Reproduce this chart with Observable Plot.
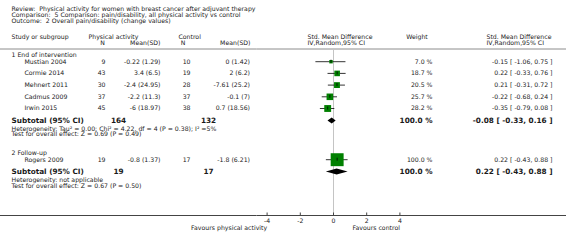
<!DOCTYPE html>
<html><head><meta charset="utf-8">
<script src="https://cdn.jsdelivr.net/npm/d3@7"></script>
<script src="https://cdn.jsdelivr.net/npm/@observablehq/plot@0.6"></script>
<style>html,body{margin:0;padding:0;background:#fff}</style>
</head><body><div id="chart"></div>
<script>
// ---------- data ----------
const titleLines = [
  "Review:\u00a0 Physical activity for women with breast cancer after adjuvant therapy",
  "Comparison:\u00a0 5 Comparison: pain/disability, all physical activity vs control",
  "Outcome:\u00a0 2 Overall pain/disability (change values)"
];
const groupLabels = ["1 End of intervention", "2 Follow-up"];
const studies   = ["Mustian 2004", "Cormie 2014", "Mehnert 2011", "Cadmus 2009", "Irwin 2015", "Rogers 2009"];
const studyGroup = [1, 1, 1, 1, 1, 2];
const paN    = [9, 43, 30, 37, 45, 19];
const paMean = [-0.22, 3.4, -2.4, -2.2, -6, -0.8];
const paSD   = [1.29, 6.5, 24.95, 11.3, 18.97, 1.37];
const ctlN    = [10, 19, 28, 37, 38, 17];
const ctlMean = [0, 2, -7.61, -0.1, 0.7, -1.8];
const ctlSD   = [1.42, 6.2, 25.2, 7, 18.56, 6.21];
const smd    = [-0.15, 0.22, 0.21, -0.22, -0.35, 0.22];
const smdLo  = [-1.06, -0.33, -0.31, -0.68, -0.79, -0.43];
const smdHi  = [0.75, 0.76, 0.72, 0.24, 0.08, 0.88];
const weight = [7.0, 18.7, 20.5, 25.7, 28.2, 100.0];
const subPaN  = [164, 19];
const subCtlN = [132, 17];
const subSmd  = [-0.08, 0.22];
const subLo   = [-0.33, -0.43];
const subHi   = [0.16, 0.88];
const hetText = [
  "Heterogeneity: Tau\u00b2 = 0.00; Chi\u00b2 = 4.22, df = 4 (P = 0.38); I\u00b2 =5%",
  "Heterogeneity: not applicable"
];
const testText = [
  "Test for overall effect: Z = 0.69 (P = 0.49)",
  "Test for overall effect: Z = 0.67 (P = 0.50)"
];
const axisTicks = [-4, -2, 0, 2, 4];
const favourLabels = ["Favours physical activity", "Favours control"];
const colHeads = {
  study: "Study or subgroup", pa: "Physical activity", ctl: "Control",
  n: "N", mean: "Mean(SD)", smd1: "Std. Mean Difference", smd2: "IV,Random,95% CI", weight: "Weight"
};

// ---------- layout ----------
const W = 566, H = 245;
const FONT = "DejaVu Sans";
const INK = "#1a1a1a";
const FS = 6.2, FSB = 7.3;
const headRuleY = 48.5, axisY = 215;
const f2 = v => v.toFixed(2);

const groupRows = [], studyRows = [], subRows = [], diamond = [];
let cursor = 55;
groupLabels.forEach((g, gi) => {
  groupRows.push({y: cursor, label: g});
  cursor += 6.2;
  studies.forEach((s, i) => {
    if (studyGroup[i] !== gi + 1) return;
    studyRows.push({
      y: cursor, name: s, smd: smd[i], lo: smdLo[i], hi: smdHi[i], w: weight[i],
      paN: String(paN[i]), paMS: `${paMean[i]} (${paSD[i]})`,
      ctlN: String(ctlN[i]), ctlMS: `${ctlMean[i]} (${ctlSD[i]})`,
      wt: `${weight[i].toFixed(1)} %`,
      eff: `${f2(smd[i])} [ ${f2(smdLo[i])}, ${f2(smdHi[i])} ]`
    });
    cursor += 11.7;
  });
  cursor += 0.7;
  const ys = cursor;
  subRows.push({
    y: ys, paN: String(subPaN[gi]), ctlN: String(subCtlN[gi]),
    eff: `${f2(subSmd[gi])} [ ${f2(subLo[gi])}, ${f2(subHi[gi])} ]`,
    het: hetText[gi], test: testText[gi]
  });
  diamond.push({g: gi, x: subLo[gi], y1: ys, y2: ys});
  diamond.push({g: gi, x: subSmd[gi], y1: ys - 3, y2: ys + 3});
  diamond.push({g: gi, x: subHi[gi], y1: ys, y2: ys});
  cursor = ys + 13.6 + 19;
});

const left = (data, opts) => Plot.text(data, {frameAnchor: "left", textAnchor: "start", fontSize: FS, fill: INK, ...opts});

const chart = Plot.plot({
  width: W, height: H, margin: 0,
  style: {fontFamily: FONT, fontSize: FS + "px", background: "#fff", color: INK},
  x: {domain: [-4, 4], range: [266.6, 399.4], axis: null},
  y: {domain: [0, H], range: [0, H], axis: null},
  r: {type: "sqrt", domain: [0, 100], range: [0, 7.3]},
  marks: [
    // titles
    left(titleLines, {y: (d, i) => 9 + i * 6, text: d => d, dx: 11}),
    // column headers
    left([colHeads.study], {y: 37, text: d => d, dx: 11}),
    left([colHeads.pa], {y: 37, text: d => d, dx: 88}),
    left([colHeads.ctl], {y: 37, text: d => d, dx: 178}),
    left([colHeads.n], {y: 43, text: d => d, dx: 104.5, textAnchor: "end"}),
    left([colHeads.mean], {y: 43, text: d => d, dx: 160, textAnchor: "end"}),
    left([colHeads.n], {y: 43, text: d => d, dx: 185, textAnchor: "end"}),
    left([colHeads.mean], {y: 43, text: d => d, dx: 250, textAnchor: "end"}),
    left([colHeads.smd1, colHeads.smd2], {y: (d, i) => 37 + i * 6, text: d => d, dx: 307}),
    left([colHeads.weight], {y: 37, text: d => d, dx: 416.5, textAnchor: "middle"}),
    left([colHeads.smd1, colHeads.smd2], {y: (d, i) => 37 + i * 6, text: d => d, dx: 486}),
    Plot.ruleY([headRuleY], {stroke: "#8c8c8c", strokeWidth: 1}),
    // zero line
    Plot.ruleX([0], {y1: headRuleY, y2: axisY, stroke: "#c4c4c4", strokeWidth: 1}),
    // group labels
    left(groupRows, {y: "y", text: "label", dx: 11}),
    // study rows
    left(studyRows, {y: "y", text: "name", dx: 24}),
    left(studyRows, {y: "y", text: "paN", dx: 105, textAnchor: "end"}),
    left(studyRows, {y: "y", text: "paMS", dx: 160, textAnchor: "end"}),
    left(studyRows, {y: "y", text: "ctlN", dx: 190, textAnchor: "end"}),
    left(studyRows, {y: "y", text: "ctlMS", dx: 249.5, textAnchor: "end"}),
    left(studyRows, {y: "y", text: "wt", dx: 432, textAnchor: "end"}),
    left(studyRows, {y: "y", text: "eff", dx: 552, textAnchor: "end"}),
    // forest marks
    Plot.ruleY(studyRows, {y: "y", x1: "lo", x2: "hi", stroke: "#000", strokeWidth: 0.8}),
    Plot.dot(studyRows, {x: "smd", y: "y", r: "w", symbol: "square", fill: "#008000", stroke: "none"}),
    Plot.ruleX(studyRows, {x: "smd", y1: d => d.y - 1.5, y2: d => d.y + 1.5, stroke: "#000", strokeWidth: 0.8}),
    // subtotals
    left(subRows, {y: "y", text: () => "Subtotal (95% CI)", dx: 11, fontWeight: "bold", fontSize: FSB}),
    left(subRows, {y: "y", text: "paN", dx: 118, textAnchor: "middle", fontWeight: "bold", fontSize: FSB}),
    left(subRows, {y: "y", text: "ctlN", dx: 208, textAnchor: "middle", fontWeight: "bold", fontSize: FSB}),
    left(subRows, {y: "y", text: () => "100.0 %", dx: 432, textAnchor: "end", fontWeight: "bold", fontSize: FSB}),
    left(subRows, {y: "y", text: "eff", dx: 552, textAnchor: "end", fontWeight: "bold", fontSize: FSB}),
    left(subRows, {y: d => d.y + 7.8, text: "het", dx: 11}),
    left(subRows, {y: d => d.y + 13.6, text: "test", dx: 11}),
    Plot.areaY(diamond, {x: "x", y1: "y1", y2: "y2", z: "g", fill: "#000", curve: "linear"}),
    // axis
    Plot.ruleY([axisY], {stroke: "#444", strokeWidth: 1}),
    Plot.ruleX(axisTicks, {x: d => d, y1: axisY - 2.5, y2: axisY, stroke: "#444", strokeWidth: 1}),
    Plot.text(axisTicks, {x: d => d, y: axisY + 5.5, text: d => String(d), fontSize: FS, fill: INK}),
    Plot.text([favourLabels[0]], {x: -4, y: axisY + 12.5, text: d => d, textAnchor: "end", fontSize: FS, fill: INK}),
    Plot.text([favourLabels[1]], {x: 4, y: axisY + 12.5, text: d => d, textAnchor: "end", fontSize: FS, fill: INK})
  ]
});
document.getElementById("chart").appendChild(chart);
</script>
</body></html>
